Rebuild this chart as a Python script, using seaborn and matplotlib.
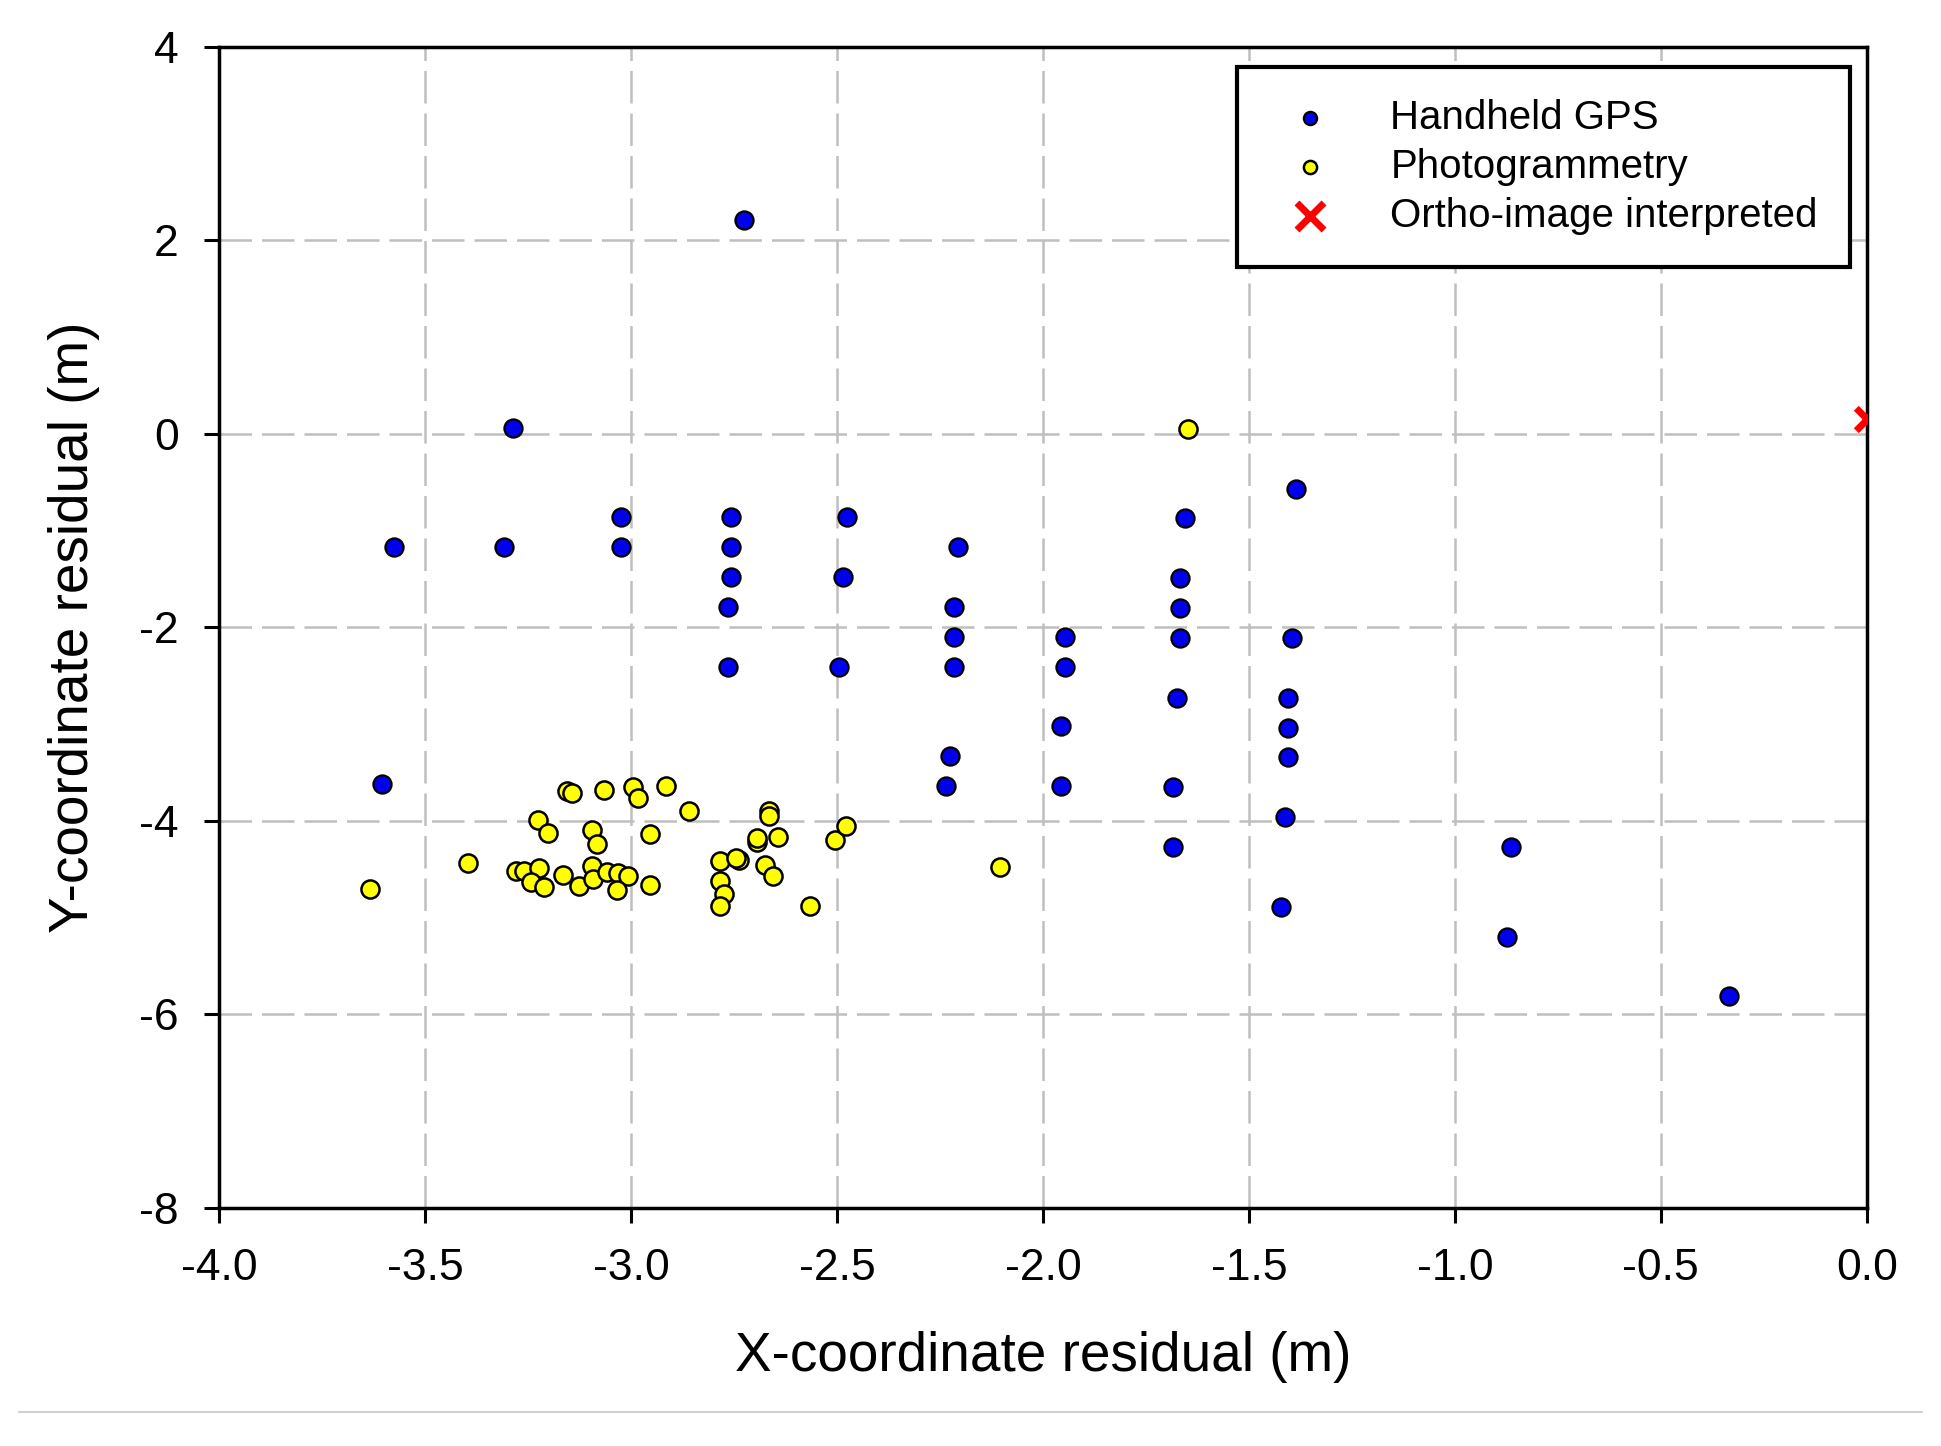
import numpy as np
import pandas as pd
import seaborn as sns
import matplotlib.pyplot as plt
from matplotlib.lines import Line2D

# --- data ---
gps_x = [-2.726, -3.286, -3.575, -3.307, -3.024, -3.024, -2.756, -2.756, -2.756, -2.765,
         -2.765, -2.476, -2.485, -2.494, -2.205, -2.217, -2.217, -2.217, -2.226, -2.235,
         -1.946, -1.946, -1.955, -1.955, -1.654, -1.666, -1.666, -1.666, -1.675, -1.684,
         -1.684, -1.386, -1.395, -1.404, -1.404, -1.404, -1.413, -1.422, -0.864, -0.873,
         -0.334, -3.605]
gps_y = [2.21, 0.06, -1.17, -1.17, -0.86, -1.17, -0.86, -1.17, -1.48, -1.79,
         -2.41, -0.86, -1.48, -2.41, -1.17, -1.79, -2.10, -2.41, -3.33, -3.64,
         -2.10, -2.41, -3.02, -3.64, -0.87, -1.49, -1.80, -2.11, -2.73, -3.65,
         -4.27, -0.57, -2.11, -2.73, -3.04, -3.34, -3.96, -4.89, -4.27, -5.20,
         -5.81, -3.62]

photo_x = [-1.648, -3.633, -3.395, -3.225, -3.202, -3.154, -3.142, -3.065, -2.994, -2.984,
           -2.915, -2.858, -3.095, -3.083, -2.954, -3.279, -3.259, -3.223, -3.243, -3.212,
           -3.166, -3.125, -3.095, -3.093, -3.057, -3.032, -3.008, -3.035, -2.954, -2.664,
           -2.664, -2.694, -2.694, -2.644, -2.784, -2.737, -2.745, -2.675, -2.655, -2.784,
           -2.774, -2.784, -2.565, -2.504, -2.477, -2.104]
photo_y = [0.05, -4.70, -4.43, -3.99, -4.12, -3.69, -3.71, -3.68, -3.65, -3.76,
           -3.64, -3.90, -4.09, -4.24, -4.13, -4.52, -4.52, -4.49, -4.63, -4.68,
           -4.56, -4.67, -4.47, -4.60, -4.53, -4.54, -4.57, -4.71, -4.66, -3.90,
           -3.95, -4.22, -4.18, -4.17, -4.41, -4.40, -4.38, -4.46, -4.57, -4.62,
           -4.76, -4.88, -4.88, -4.20, -4.05, -4.48]

ortho_x = [0.0]
ortho_y = [0.15]

x_ticks = [-4.0, -3.5, -3.0, -2.5, -2.0, -1.5, -1.0, -0.5, 0.0]
y_ticks = [-8, -6, -4, -2, 0, 2, 4]

gps = pd.DataFrame({"x": gps_x, "y": gps_y})
photo = pd.DataFrame({"x": photo_x, "y": photo_y})
ortho = pd.DataFrame({"x": ortho_x, "y": ortho_y})

# --- style ---
sns.set_style("white")
plt.rcParams['font.family'] = ['Liberation Sans', 'DejaVu Sans']
plt.rcParams['text.color'] = 'black'
plt.rcParams['axes.labelcolor'] = 'black'

fig = plt.figure(figsize=(19.41, 14.46), dpi=100)
ax = fig.add_axes([0.1128, 0.1646, 0.849, 0.803])

sns.scatterplot(data=gps, x="x", y="y", ax=ax, color="#0000ee", edgecolor="black",
                linewidth=1.6, s=170, label="Handheld GPS", zorder=3)
sns.scatterplot(data=photo, x="x", y="y", ax=ax, color="#ffff00", edgecolor="black",
                linewidth=1.8, s=170, label="Photogrammetry", zorder=3)
sns.scatterplot(data=ortho, x="x", y="y", ax=ax, color="red", marker="x",
                linewidth=5, s=260, label="Ortho-image interpreted", zorder=4)

ax.set_xlim(-4.0, 0.0)
ax.set_ylim(-8, 4)
ax.set_xticks(x_ticks)
ax.set_xticklabels([f"{t:.1f}" for t in x_ticks])
ax.set_yticks(y_ticks)
ax.set_yticklabels([str(t) for t in y_ticks])

ax.grid(True, color="#bfbfbf", linewidth=1.8, linestyle=(0, (13, 4)))
ax.set_axisbelow(True)

for sp in ax.spines.values():
    sp.set_color("black")
    sp.set_linewidth(2.5)

ax.tick_params(axis="both", direction="out", length=11, width=2.2, colors="black",
               labelcolor="black", labelsize=32, pad=18,
               bottom=True, left=True, top=False, right=False)

ax.set_xlabel("X-coordinate residual (m)", fontsize=39.5, labelpad=30, color="black")
ax.set_ylabel("Y-coordinate residual (m)", fontsize=39.5, labelpad=28, color="black")

leg = ax.legend(loc="upper left", bbox_to_anchor=(0.618, 0.983), fontsize=29,
                frameon=True, fancybox=False, edgecolor="black", framealpha=1,
                borderpad=0.8, handletextpad=1.0, labelspacing=0.27, handlelength=2.0,
                borderaxespad=0)
leg.get_frame().set_linewidth(3)
for t in leg.get_texts():
    t.set_color("black")
for h, s in zip(leg.legend_handles, [90, 90, 380]):
    h.set_sizes([s])

# thin rule at the foot of the figure
fig.add_artist(Line2D([0.01, 0.99], [0.0235, 0.0235], color="#d0d0d0", linewidth=1.5,
                      transform=fig.transFigure))

plt.savefig("out.png", dpi=100)
plt.close()
